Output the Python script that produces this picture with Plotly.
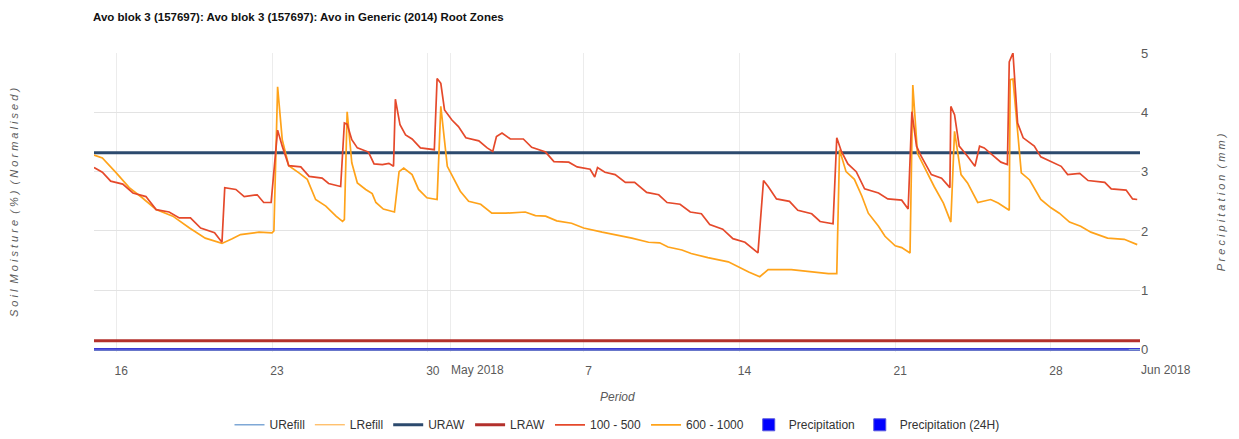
import pandas as pd
import plotly.graph_objects as go


# ── Data ──────────────────────────────────────────────────────────────────────

TITLE = "Avo blok 3 (157697): Avo blok 3 (157697): Avo in Generic (2014) Root Zones"

X_START = "2018-04-15 00:00"
X_END = "2018-06-01 00:00"

# 100 - 500 root zone (timestamp "MM-DD HH", value)
zone_100_500_times = [
    "04-15 00", "04-15 09", "04-15 18", "04-16 07", "04-16 18", "04-17 08", "04-17 19",
    "04-18 09", "04-18 20", "04-19 08", "04-19 19", "04-20 10", "04-20 18", "04-20 21",
    "04-21 09", "04-21 18", "04-22 08", "04-22 15", "04-22 23", "04-23 06", "04-23 11",
    "04-23 18", "04-24 07", "04-24 16", "04-25 06", "04-25 13", "04-26 02", "04-26 06",
    "04-26 09", "04-26 14", "04-26 20", "04-27 08", "04-27 14", "04-27 23", "04-28 06",
    "04-28 11", "04-28 13", "04-28 18", "04-29 00", "04-29 07", "04-29 16", "04-30 05",
    "04-30 07", "04-30 10", "04-30 14", "04-30 18", "05-01 02", "05-01 09", "05-01 17",
    "05-02 07", "05-02 16", "05-02 22", "05-03 02", "05-03 08", "05-03 17", "05-04 07",
    "05-04 16", "05-05 07", "05-05 16", "05-06 08", "05-06 17", "05-07 07", "05-07 12",
    "05-07 15", "05-07 23", "05-08 10", "05-08 21", "05-09 07", "05-09 20", "05-10 09",
    "05-10 18", "05-11 08", "05-11 19", "05-12 07", "05-12 16", "05-13 06", "05-13 17",
    "05-14 06", "05-14 20", "05-15 02", "05-15 07", "05-15 16", "05-16 06", "05-16 15",
    "05-17 06", "05-17 15", "05-18 03", "05-18 05", "05-18 09", "05-18 14", "05-18 21",
    "05-19 06", "05-19 15", "05-20 06", "05-20 16", "05-21 07", "05-21 14", "05-21 18",
    "05-21 23", "05-22 04", "05-22 15", "05-23 02", "05-23 11", "05-23 12", "05-23 16",
    "05-23 21", "05-24 06", "05-24 14", "05-24 19", "05-25 00", "05-25 09", "05-25 18",
    "05-26 01", "05-26 03", "05-26 07", "05-26 12", "05-26 18", "05-27 06", "05-27 13",
    "05-28 00", "05-28 11", "05-28 18", "05-29 07", "05-29 16", "05-30 10", "05-30 17",
    "05-31 09", "05-31 16", "05-31 21",
]
zone_100_500_values = [
    3.07, 2.99, 2.84, 2.79, 2.64, 2.58, 2.36,
    2.32, 2.22, 2.22, 2.05, 1.97, 1.81, 2.73,
    2.70, 2.58, 2.61, 2.48, 2.48, 3.70, 3.43,
    3.10, 3.08, 2.92, 2.89, 2.80, 2.75, 3.82,
    3.80, 3.54, 3.40, 3.33, 3.13, 3.12, 3.14,
    3.09, 4.22, 3.79, 3.62, 3.55, 3.40, 3.38,
    3.37, 4.57, 4.49, 4.04, 3.87, 3.76, 3.57,
    3.52, 3.40, 3.34, 3.59, 3.65, 3.55, 3.55,
    3.41, 3.33, 3.17, 3.16, 3.08, 3.04, 2.91,
    3.07, 2.99, 2.95, 2.82, 2.82, 2.65, 2.61,
    2.48, 2.45, 2.32, 2.29, 2.11, 2.03, 1.87,
    1.81, 1.63, 2.85, 2.75, 2.54, 2.50, 2.35,
    2.29, 2.16, 2.12, 2.12, 3.57, 3.34, 3.13,
    3.00, 2.71, 2.64, 2.54, 2.52, 2.37, 4.01,
    3.43, 3.26, 2.95, 2.89, 2.73, 4.10, 3.96,
    3.43, 3.26, 3.09, 3.43, 3.40, 3.28, 3.16,
    3.12, 4.85, 5.00, 3.82, 3.57, 3.43, 3.25,
    3.17, 3.09, 2.95, 2.97, 2.85, 2.82, 2.71,
    2.69, 2.54, 2.53,
]

# 600 - 1000 root zone
zone_600_1000_times = [
    "04-15 00", "04-15 09", "04-16 00", "04-16 14", "04-17 04", "04-17 19", "04-18 13",
    "04-19 07", "04-20 00", "04-20 18", "04-21 05", "04-21 14", "04-22 10", "04-23 00",
    "04-23 02", "04-23 06", "04-23 11", "04-23 18", "04-24 05", "04-24 14", "04-24 23",
    "04-25 10", "04-25 21", "04-26 04", "04-26 06", "04-26 09", "04-26 14", "04-26 20",
    "04-27 05", "04-27 12", "04-27 16", "04-28 00", "04-28 12", "04-28 17", "04-28 22",
    "04-29 07", "04-29 14", "04-29 23", "04-30 10", "04-30 14", "04-30 21", "05-01 04",
    "05-01 11", "05-01 20", "05-02 09", "05-02 21", "05-03 12", "05-04 09", "05-04 20",
    "05-05 07", "05-05 19", "05-06 11", "05-07 00", "05-07 20", "05-08 10", "05-09 04",
    "05-09 22", "05-10 10", "05-10 19", "05-11 10", "05-11 20", "05-12 14", "05-13 12",
    "05-13 23", "05-14 10", "05-14 22", "05-15 07", "05-16 08", "05-17 06", "05-18 00",
    "05-18 09", "05-18 12", "05-18 19", "05-19 04", "05-19 12", "05-19 19", "05-20 06",
    "05-20 13", "05-21 00", "05-21 07", "05-21 16", "05-21 19", "05-22 00", "05-22 08",
    "05-22 18", "05-23 04", "05-23 12", "05-23 16", "05-23 23", "05-24 06", "05-24 17",
    "05-25 07", "05-25 15", "05-26 03", "05-26 04", "05-26 07", "05-26 16", "05-27 01",
    "05-27 13", "05-28 00", "05-28 09", "05-28 20", "05-29 08", "05-29 19", "05-30 13",
    "05-31 07", "05-31 21",
]
zone_600_1000_values = [
    3.28, 3.23, 2.98, 2.73, 2.56, 2.36, 2.25,
    2.05, 1.88, 1.79, 1.87, 1.94, 1.98, 1.97,
    2.00, 4.43, 3.54, 3.10, 2.98, 2.87, 2.53,
    2.42, 2.25, 2.16, 2.19, 4.01, 3.15, 2.81,
    2.70, 2.63, 2.48, 2.37, 2.32, 3.00, 3.06,
    2.95, 2.70, 2.56, 2.53, 4.10, 3.09, 2.87,
    2.67, 2.50, 2.45, 2.30, 2.30, 2.32, 2.26,
    2.25, 2.17, 2.13, 2.05, 1.98, 1.94, 1.88,
    1.81, 1.80, 1.73, 1.68, 1.62, 1.55, 1.48,
    1.39, 1.31, 1.23, 1.35, 1.35, 1.31, 1.28,
    1.28, 3.37, 3.00, 2.87, 2.59, 2.30, 2.08,
    1.91, 1.75, 1.72, 1.63, 4.46, 3.31, 3.06,
    2.75, 2.47, 2.15, 3.68, 2.95, 2.81, 2.48,
    2.53, 2.47, 2.35, 4.55, 4.56, 2.98, 2.86,
    2.53, 2.39, 2.30, 2.15, 2.08, 1.98, 1.88,
    1.86, 1.77,
]

# threshold lines (constant over the period)
urefill_value = 0.0
lrefill_value = 0.0
uraw_value = 3.32
lraw_value = 0.15

# daily precipitation (mm) - none recorded
precip_days = pd.date_range("2018-04-15", "2018-05-31", freq="D")
precip_values = [0.0] * len(precip_days)
precip_24h_values = [0.0] * len(precip_days)

# axis ticks
grid_dates = ["2018-04-16", "2018-04-23", "2018-04-30", "2018-05-01", "2018-05-07",
              "2018-05-14", "2018-05-21", "2018-05-28", "2018-06-01"]
grid_labels = ["16", "23", "30", "", "7", "14", "21", "28", ""]
month_dates = ["2018-05-01", "2018-06-01"]
month_labels = ["May 2018", "Jun 2018"]
y_ticks = [0, 1, 2, 3, 4, 5]


# ── Style ─────────────────────────────────────────────────────────────────────

FONT = "Liberation Sans Narrow, Arial Narrow, Liberation Sans, Arial, sans-serif"
GRID = "#e3e3e3"
MUTED = "#5a5a5a"

COLORS = {
    "urefill": "#7fa8d6",
    "lrefill": "#ffa733",
    "uraw":    "#2c4a6e",
    "lraw":    "#b3302c",
    "z100":    "#e5492b",
    "z600":    "#ffa31a",
    "precip":  "#0000ff",
}


def to_ts(stamps):
    return pd.to_datetime(["2018-" + s for s in stamps], format="%Y-%m-%d %H")


def flat_line(value, name, color, width, rank):
    return go.Scatter(
        x=[X_START, X_END],
        y=[value, value],
        mode="lines",
        name=name,
        line=dict(color=color, width=width),
        legendrank=rank,
    )


fig = go.Figure()

fig.add_trace(go.Bar(
    x=precip_days, y=precip_values, name="Precipitation", yaxis="y2",
    marker=dict(color=COLORS["precip"], line=dict(color="#5555dd", width=1)),
    legendrank=7,
))
fig.add_trace(go.Bar(
    x=precip_days, y=precip_24h_values, name="Precipitation (24H)", yaxis="y2",
    marker=dict(color=COLORS["precip"], line=dict(color="#5555dd", width=1)),
    legendrank=8,
))

fig.add_trace(flat_line(lrefill_value, "LRefill", COLORS["lrefill"], 1, 2))
fig.add_trace(flat_line(urefill_value, "URefill", COLORS["urefill"], 1.5, 1))
fig.add_trace(flat_line(uraw_value, "URAW", COLORS["uraw"], 3, 3))
fig.add_trace(flat_line(lraw_value, "LRAW", COLORS["lraw"], 3, 4))

fig.add_trace(go.Scatter(
    x=to_ts(zone_600_1000_times), y=zone_600_1000_values,
    mode="lines", name="600 - 1000",
    line=dict(color=COLORS["z600"], width=1.7),
    legendrank=6,
))
fig.add_trace(go.Scatter(
    x=to_ts(zone_100_500_times), y=zone_100_500_values,
    mode="lines", name="100 - 500",
    line=dict(color=COLORS["z100"], width=1.7),
    legendrank=5,
))

for d, label in zip(month_dates, month_labels):
    fig.add_annotation(
        x=d, y=0, xref="x", yref="paper",
        text=label, showarrow=False,
        xanchor="left", yanchor="middle",
        xshift=-1, yshift=-18,
        font=dict(color=MUTED, size=12),
    )

fig.add_annotation(
    x=0.5, y=0, xref="paper", yref="paper",
    text="<i>Period</i>", showarrow=False,
    xanchor="center", yanchor="middle", yshift=-45,
    font=dict(color=MUTED, size=12),
)

fig.update_layout(
    width=1239,
    height=439,
    paper_bgcolor="white",
    plot_bgcolor="white",
    font=dict(family=FONT, color=MUTED, size=12),
    margin=dict(l=94, r=99, t=53, b=87, autoexpand=False),
    title=dict(
        text="<b>" + TITLE + "</b>",
        x=93 / 1239, xref="container", xanchor="left",
        y=1 - 17 / 439, yref="container", yanchor="middle",
        font=dict(color="#111111", size=11.5),
    ),
    bargap=0,
    xaxis=dict(
        type="date",
        range=[X_START, X_END],
        tickvals=grid_dates,
        ticktext=grid_labels,
        ticklabelshift=5,
        ticklabelstandoff=10,
        showgrid=True,
        gridcolor="#ececec",
        zeroline=False,
        showline=False,
        ticks="",
        automargin=False,
        tickfont=dict(color=MUTED, size=12),
    ),
    yaxis=dict(
        range=[-0.04, 5],
        tickvals=y_ticks,
        showticklabels=False,
        showgrid=True,
        gridcolor=GRID,
        gridwidth=1.3,
        zeroline=True,
        zerolinecolor="#3a3ad2",
        zerolinewidth=2.5,
        ticks="",
        automargin=False,
        title=dict(
            text="<i>S o i l  M o i s t u r e  ( % )  ( N o r m a l i s e d )</i>",
            font=dict(color=MUTED, size=11),
            standoff=72,
        ),
    ),
    yaxis2=dict(
        overlaying="y",
        side="right",
        range=[-0.04, 5],
        tickvals=y_ticks,
        showgrid=False,
        zeroline=False,
        ticks="",
        automargin=False,
        tickfont=dict(color=MUTED, size=13),
        title=dict(
            text="<i>P r e c i p i t a t i o n  ( m m )</i>",
            font=dict(color=MUTED, size=11),
            standoff=70,
        ),
    ),
    showlegend=True,
    legend=dict(
        orientation="h",
        x=0.5, xanchor="center",
        y=-0.195, yanchor="top",
        font=dict(color="#333333", size=12),
        traceorder="normal",
    ),
)

# drop the default page margin so the 1239x439 figure fills the window exactly
fig.write_html(
    "out.html",
    config={"displayModeBar": False},
    post_script="document.body.style.margin = '0';",
)
